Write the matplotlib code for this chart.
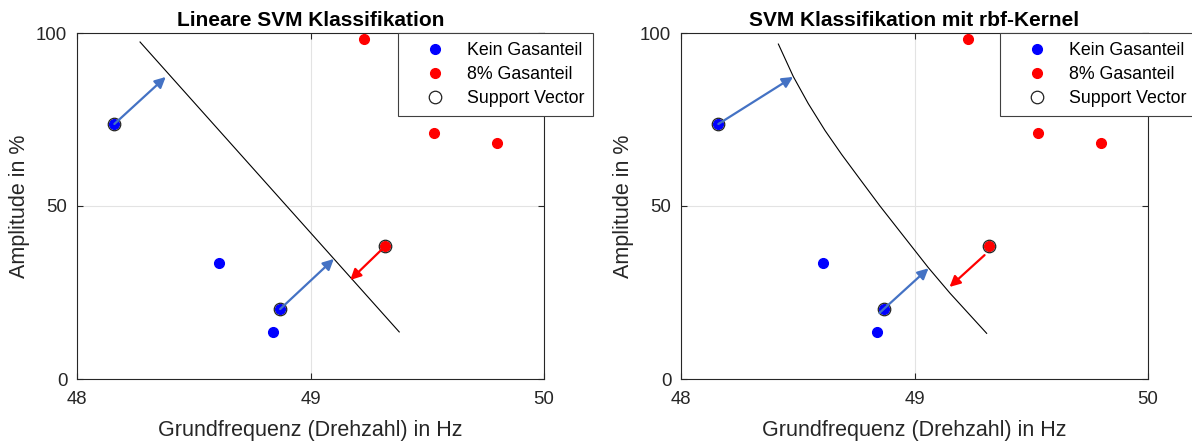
import matplotlib
matplotlib.use("Agg")
import matplotlib.pyplot as plt
import numpy as np

plt.rcParams['font.family'] = ['Liberation Sans', 'DejaVu Sans']

# Data
blue_x = [48.16, 48.61, 48.87, 48.84]
blue_y = [73.7, 33.5, 20.2, 13.6]
red_x = [49.23, 49.32, 49.53, 49.80]
red_y = [98.3, 38.4, 71.1, 68.2]
sv_x = [48.16, 48.87, 49.32]
sv_y = [73.7, 20.2, 38.4]

# Decision boundaries
lin_x = [48.27, 49.38]
lin_y = [97.4, 13.6]
rbf_x = [48.417, 48.481, 48.545, 48.617, 48.688, 48.767, 48.852, 48.938,
         49.002, 49.059, 49.152, 49.309]
rbf_y = [96.8, 87.4, 79.6, 71.8, 64.9, 57.7, 50.0, 42.6,
         37.1, 32.2, 24.8, 13.2]

# Arrows: (x0, y0, x1, y1, colour-key)
lin_arrows = [(48.16, 73.7, 48.38, 87.3, 'b'),
              (48.87, 20.2, 49.10, 34.7, 'b'),
              (49.32, 38.4, 49.17, 28.6, 'r')]
rbf_arrows = [(48.16, 73.7, 48.48, 87.3, 'b'),
              (48.85, 19.1, 49.06, 32.0, 'b'),
              (49.30, 35.8, 49.15, 26.6, 'r')]

titles = ['Lineare SVM Klassifikation', 'SVM Klassifikation mit rbf-Kernel']
xticks = [48, 49, 50]
yticks = [0, 50, 100]

arrow_col = {'b': '#4472C4', 'r': '#FF0000'}
axc = '#262626'

fig = plt.figure(figsize=(11.92, 4.43), dpi=100)
lefts = [77 / 1192, 681 / 1192]
for i, left in enumerate(lefts):
    ax = fig.add_axes([left, 64 / 443, 467 / 1192, 346 / 443])
    ax.set_xlim(48, 50)
    ax.set_ylim(0, 100)
    ax.set_xticks(xticks)
    ax.set_yticks(yticks)
    ax.grid(True, color='#e3e3e3', linewidth=0.8)
    ax.set_axisbelow(True)
    ax.tick_params(direction='in', top=True, right=True, length=4,
                   colors=axc, labelsize=13.4, labelcolor=axc, width=0.8)
    ax.tick_params(axis='x', pad=9)
    ax.tick_params(axis='y', pad=7)
    for s in ax.spines.values():
        s.set_color(axc)
        s.set_linewidth(0.8)

    if i == 0:
        ax.plot(lin_x, lin_y, color='black', linewidth=0.8, zorder=2)
        arrows = lin_arrows
    else:
        ax.plot(rbf_x, rbf_y, color='black', linewidth=0.8, zorder=2)
        arrows = rbf_arrows

    h1, = ax.plot(blue_x, blue_y, 'o', color='#0000FF', markersize=7,
                  linestyle='none', label='Kein Gasanteil', zorder=4)
    h2, = ax.plot(red_x, red_y, 'o', color='#FF0000', markersize=7,
                  linestyle='none', label='8% Gasanteil', zorder=4)
    h3, = ax.plot(sv_x, sv_y, 'o', markerfacecolor='none', markeredgecolor='#222222',
                  markersize=9, markeredgewidth=0.9, linestyle='none',
                  label='Support Vector', zorder=5)

    for (x0, y0, x1, y1, c) in arrows:
        ax.annotate('', xy=(x1, y1), xytext=(x0, y0),
                    arrowprops=dict(arrowstyle='-|>', color=arrow_col[c],
                                    lw=1.6, mutation_scale=16,
                                    shrinkA=0, shrinkB=0), zorder=6)

    ax.set_title(titles[i], fontsize=15, fontweight='bold', pad=5)
    ax.set_xlabel('Grundfrequenz (Drehzahl) in Hz', fontsize=15.5, color=axc, labelpad=8)
    ax.set_ylabel('Amplitude in %', fontsize=15.5, color=axc, labelpad=4)

    leg = ax.legend(handles=[h1, h2, h3], loc='upper left',
                    bbox_to_anchor=(0.687 if i == 0 else 0.683, 1.0),
                    prop={'size': 12.8}, frameon=True, fancybox=False, framealpha=1,
                    edgecolor='#404040', borderpad=0.5, handletextpad=0.22,
                    labelspacing=0.4, borderaxespad=0, handlelength=3.16)
    leg.get_frame().set_linewidth(0.8)
    leg.set_zorder(10)

fig.savefig('out.png', dpi=100)
